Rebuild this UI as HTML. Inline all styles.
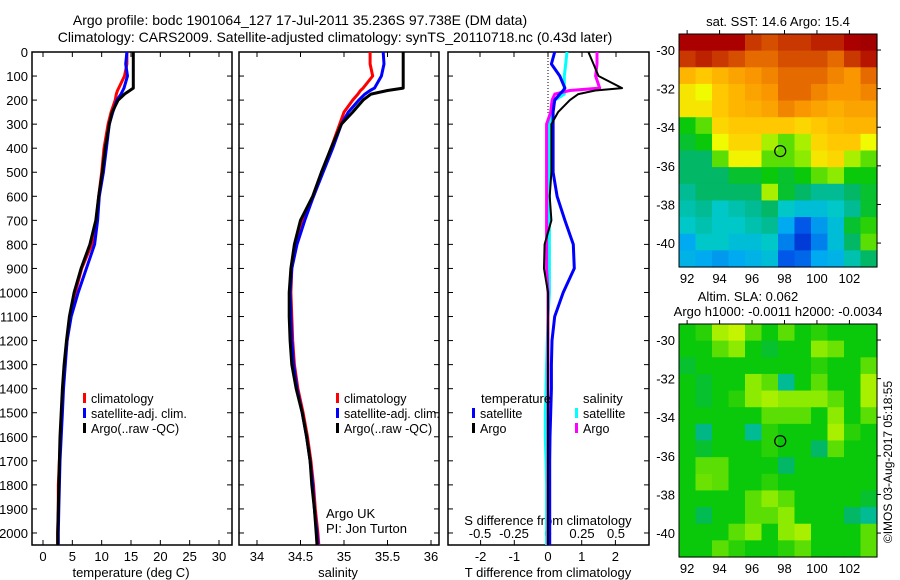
<!DOCTYPE html>
<html><head><meta charset="utf-8"><style>
html,body{margin:0;padding:0;background:#fff;}
svg{display:block;font-family:"Liberation Sans",sans-serif;}
</style></head><body>
<svg id="fig" width="900" height="580" viewBox="0 0 900 580">
<text x="300" y="25" font-size="14" text-anchor="middle">Argo profile: bodc 1901064_127 17-Jul-2011 35.236S 97.738E (DM data)</text>
<text x="335" y="42" font-size="14" text-anchor="middle">Climatology: CARS2009. Satellite-adjusted climatology: synTS_20110718.nc (0.43d later)</text>
<g id="p1"></g>
<g id="p2"></g>
<g id="p3"></g>
<g id="m1"></g>
<g id="m2"></g>
<text transform="translate(892,462) rotate(-90)" font-size="12" text-anchor="middle">©IMOS 03-Aug-2017 05:18:55</text>
</svg>
<script>
const depths=[0,50,100,150,160,175,200,250,300,400,500,600,700,800,900,1000,1100,1200,1300,1400,1500,1600,1700,1800,1900,2000,2050];
const tempArgo=[15.4,15.4,15.4,15.4,14.8,13.9,12.8,11.8,11.3,10.6,10.1,9.5,9.0,8.0,6.5,5.3,4.5,4.0,3.6,3.3,3.1,2.9,2.8,2.7,2.6,2.5,2.5];
const tempClim=[14.3,14.3,13.9,12.9,12.7,12.5,12.3,11.6,11.1,10.4,10.0,9.5,9.1,8.3,6.6,5.5,4.6,4.1,3.7,3.4,3.2,3.0,2.8,2.6,2.6,2.5,2.5];
const tempSat=[14.3,14.1,14.4,13.8,13.6,13.3,12.6,11.9,11.3,10.8,10.3,9.6,9.3,8.8,7.4,6.0,4.8,4.1,3.8,3.5,3.3,3.1,2.9,2.8,2.7,2.6,2.6];
const salArgo=[35.68,35.68,35.68,35.68,35.5,35.31,35.22,35.1,34.97,34.85,34.74,34.64,34.5,34.43,34.39,34.37,34.37,34.38,34.4,34.45,34.52,34.57,34.61,34.63,34.66,34.68,34.69];
const salClim=[35.3,35.3,35.33,35.22,35.19,35.16,35.1,35.0,34.95,34.85,34.75,34.65,34.52,34.44,34.4,34.39,34.4,34.41,34.43,34.47,34.53,34.58,34.62,34.65,34.67,34.7,34.71];
const salSat=[35.45,35.46,35.43,35.35,35.3,35.24,35.17,35.05,34.97,34.87,34.76,34.65,34.55,34.46,34.4,34.38,34.39,34.4,34.42,34.46,34.52,34.57,34.61,34.64,34.66,34.69,34.7];
const dTArgo=[1.2,1.35,1.5,2.2,1.4,0.9,0.65,0.3,0.1,0.1,0.1,0.05,0.1,-0.1,-0.12,0.0,0.0,0.0,0.0,0.0,0.0,0.0,0.0,0.0,0.0,0.0,0.0];
const dTSat=[0.2,0.1,0.35,0.5,0.45,0.35,0.2,0.15,0.15,0.15,0.15,0.27,0.5,0.75,0.78,0.45,0.2,0.12,0.1,0.1,0.08,0.06,0.05,0.05,0.05,0.05,0.05];
const dSArgo=[0.36,0.36,0.35,0.38,0.16,0.05,0.03,0.02,-0.01,-0.01,-0.01,-0.01,-0.01,-0.01,-0.01,0.0,0.0,0.0,0.0,0.0,0.0,0.0,0.0,0.0,0.0,0.0,0.0];
const dSSat=[0.14,0.13,0.12,0.12,0.12,0.12,0.05,0.03,0.01,0.01,0.01,0.01,0.01,0.01,0.01,0.01,0.0,-0.005,-0.01,-0.015,-0.02,-0.02,-0.015,-0.01,-0.01,-0.01,-0.01];
const depthTicks=[0,100,200,300,400,500,600,700,800,900,1000,1100,1200,1300,1400,1500,1600,1700,1800,1900,2000];
const tempTicks=[0,5,10,15,20,25,30];
const salTicks=[34,34.5,35,35.5,36];
const dTTicks=[-2,-1,0,1,2];
const dSTicks=[-0.5,-0.25,0,0.25,0.5];
const dSTickLabels=["-0.5","-0.25","0","0.25","0.5"];
const mapLonTicks=[92,94,96,98,100,102];
const mapLatTicks=[-30,-32,-34,-36,-38,-40];
const sstGrid=[
[0.95,0.95,0.95,0.95,0.9,0.88,0.9,0.9,0.92,0.92,0.95,0.97],
[0.9,0.92,0.9,0.88,0.85,0.85,0.88,0.88,0.88,0.85,0.9,0.93],
[0.75,0.72,0.75,0.78,0.8,0.82,0.85,0.85,0.85,0.82,0.8,0.85],
[0.68,0.65,0.72,0.75,0.78,0.8,0.85,0.85,0.82,0.8,0.8,0.82],
[0.68,0.68,0.72,0.75,0.76,0.78,0.82,0.8,0.78,0.76,0.78,0.78],
[0.5,0.55,0.7,0.72,0.72,0.72,0.72,0.7,0.72,0.74,0.75,0.75],
[0.48,0.5,0.65,0.7,0.7,0.6,0.55,0.6,0.7,0.72,0.72,0.65],
[0.45,0.45,0.55,0.66,0.66,0.55,0.55,0.58,0.68,0.7,0.6,0.55],
[0.45,0.45,0.45,0.48,0.48,0.5,0.48,0.5,0.55,0.58,0.5,0.5],
[0.42,0.45,0.45,0.45,0.45,0.6,0.48,0.45,0.42,0.42,0.45,0.48],
[0.4,0.42,0.38,0.4,0.42,0.45,0.38,0.35,0.35,0.38,0.42,0.48],
[0.38,0.4,0.38,0.38,0.4,0.42,0.3,0.2,0.28,0.35,0.48,0.52],
[0.3,0.38,0.38,0.35,0.35,0.38,0.25,0.15,0.25,0.35,0.45,0.55],
[0.32,0.3,0.28,0.3,0.32,0.35,0.2,0.22,0.3,0.32,0.4,0.45]];
const slaGrid=[
[0.5,0.52,0.6,0.62,0.55,0.5,0.55,0.5,0.52,0.5,0.5,0.5],
[0.5,0.5,0.55,0.58,0.5,0.48,0.5,0.5,0.58,0.56,0.5,0.5],
[0.48,0.5,0.5,0.5,0.5,0.5,0.5,0.5,0.52,0.5,0.5,0.55],
[0.5,0.48,0.5,0.5,0.58,0.55,0.42,0.5,0.55,0.5,0.5,0.6],
[0.5,0.48,0.5,0.52,0.58,0.6,0.58,0.58,0.58,0.55,0.5,0.6],
[0.5,0.5,0.5,0.5,0.5,0.55,0.55,0.55,0.5,0.58,0.5,0.55],
[0.5,0.43,0.5,0.5,0.42,0.52,0.5,0.5,0.5,0.6,0.52,0.5],
[0.5,0.48,0.5,0.5,0.5,0.52,0.5,0.5,0.45,0.55,0.5,0.5],
[0.5,0.55,0.55,0.5,0.5,0.5,0.45,0.5,0.5,0.5,0.5,0.5],
[0.5,0.56,0.55,0.5,0.5,0.52,0.5,0.5,0.5,0.5,0.5,0.5],
[0.5,0.5,0.5,0.5,0.55,0.58,0.55,0.5,0.5,0.5,0.5,0.48],
[0.5,0.46,0.5,0.5,0.55,0.55,0.58,0.5,0.5,0.5,0.45,0.42],
[0.5,0.5,0.5,0.55,0.58,0.5,0.58,0.6,0.5,0.5,0.5,0.55],
[0.5,0.5,0.55,0.52,0.5,0.5,0.52,0.55,0.5,0.5,0.5,0.55]];
const argoLon=97.738, argoLat=-35.236;

const NS='http://www.w3.org/2000/svg';
function mk(tag,attrs,parent){const e=document.createElementNS(NS,tag);for(const k in attrs)e.setAttribute(k,attrs[k]);parent.appendChild(e);return e;}
const TOP=52,BOT=545;
const yD=d=>TOP+(d/2050)*(BOT-TOP);

function frame(g,x0,x1){
  const r=mk('rect',{x:x0,y:TOP,width:x1-x0,height:BOT-TOP,fill:'none',stroke:'#000','stroke-width':1.5},g);
  
  
  depthTicks.forEach(d=>{
    mk('line',{x1:x0,x2:x0+5,y1:yD(d),y2:yD(d),stroke:'#000'},g);
    mk('line',{x1:x1-5,x2:x1,y1:yD(d),y2:yD(d),stroke:'#000'},g);
  });
}
function xTicks(g,vals,labels,sx,yLab,both){
  vals.forEach((v,i)=>{
    const x=sx(v);
    mk('line',{x1:x,x2:x,y1:BOT,y2:BOT-5,stroke:'#000'},g);
    if(both) mk('line',{x1:x,x2:x,y1:TOP,y2:TOP+5,stroke:'#000'},g);
    const t=mk('text',{x:x,y:yLab,'font-size':13,'text-anchor':'middle'},g);
    t.textContent=labels[i];
    
    
  });
}
function line(g,xs,sx,color,w,name){
  const p=depths.map((d,i)=>sx(xs[i]).toFixed(1)+','+yD(d).toFixed(1)).join(' ');
  const el=mk('polyline',{points:p,fill:'none',stroke:color,'stroke-width':w,'stroke-linejoin':'round'},g);
  
  
}
function legend(g,x,y,items){
  items.forEach((it,i)=>{
    mk('rect',{x:x,y:y+i*15-10,width:3,height:10,fill:it[0]},g);
    const t=mk('text',{x:x+8,y:y+i*15,'font-size':12.5},g);
    t.textContent=it[1];
    
    
  });
}
function text(g,x,y,s,anchor,size,name){
  const t=mk('text',{x:x,y:y,'font-size':size||13,'text-anchor':anchor||'start'},g);
  t.textContent=s;
  
  
  return t;
}

const p1=document.getElementById('p1');
const sxT=t=>43+t*(219-43)/30;
frame(p1,32,232);
depthTicks.forEach(d=>{ text(p1,28,yD(d)+5,String(d),'end',13,'y-tick-label'); });
xTicks(p1,tempTicks,tempTicks.map(String),sxT,561,true);
text(p1,131,577,'temperature (deg C)','middle',13,'x-axis-title-temperature');
line(p1,tempClim,sxT,'#f00',3,'temp-climatology-line');
line(p1,tempSat,sxT,'#00f',3,'temp-satellite-line');
line(p1,tempArgo,sxT,'#000',3,'temp-argo-line');
legend(p1,83,403,[['#f00','climatology'],['#00f','satellite-adj. clim.'],['#000','Argo(..raw -QC)']]);

const p2=document.getElementById('p2');
const sxS=s=>257+(s-34)*(431-257)/2;
frame(p2,239,439);
xTicks(p2,salTicks,salTicks.map(String),sxS,561,true);
text(p2,338,577,'salinity','middle',13,'x-axis-title-salinity');
line(p2,salClim,sxS,'#f00',3,'sal-climatology-line');
line(p2,salSat,sxS,'#00f',3,'sal-satellite-line');
line(p2,salArgo,sxS,'#000',3,'sal-argo-line');
legend(p2,336,403,[['#f00','climatology'],['#00f','satellite-adj. clim.'],['#000','Argo(..raw -QC)']]);
text(p2,326,518,'Argo UK','start',13,'argo-uk-label');
text(p2,326,533,'PI: Jon Turton','start',13,'pi-label');

const p3=document.getElementById('p3');
const sxdT=v=>548+v*33.7;
const sxdS=v=>548+v*136;
frame(p3,448,649);
mk('line',{x1:548,x2:548,y1:TOP,y2:yD(260),stroke:'#000','stroke-dasharray':'1,2'},p3);
dSTicks.forEach(v=>mk('line',{x1:sxdS(v),x2:sxdS(v),y1:TOP,y2:TOP+5,stroke:'#000'},p3));
xTicks(p3,dTTicks,dTTicks.map(String),sxdT,561,false);
dSTicks.forEach((v,i)=>text(p3,sxdS(v),538,dSTickLabels[i],'middle',13,'s-diff-tick-label'));
text(p3,548,525,'S difference from climatology','middle',13,'s-diff-axis-title');
text(p3,548,577,'T difference from climatology','middle',13,'t-diff-axis-title');
line(p3,dSSat,sxdS,'#0ff',3,'sdiff-satellite-line');
line(p3,dSArgo,sxdS,'#f0f',3,'sdiff-argo-line');
line(p3,dTSat,sxdT,'#00f',3,'tdiff-satellite-line');
line(p3,dTArgo,sxdT,'#000',2,'tdiff-argo-line');
text(p3,481,403,'temperature','start',13,'legend-temperature-header');
text(p3,583,403,'salinity','start',13,'legend-salinity-header');
legend(p3,472,418,[['#00f','satellite'],['#000','Argo']]);
legend(p3,575,418,[['#0ff','satellite'],['#f0f','Argo']]);

const cmapStops=[[0,[0,0,140]],[0.18,[0,70,230]],[0.3,[0,170,240]],[0.38,[0,200,200]],[0.44,[0,180,120]],[0.5,[10,200,10]],[0.58,[140,235,0]],[0.65,[240,250,0]],[0.72,[255,200,0]],[0.8,[250,150,0]],[0.87,[220,90,0]],[0.95,[170,0,0]],[1,[150,0,0]]];
function cmap(v){
  for(let i=1;i<cmapStops.length;i++){
    if(v<=cmapStops[i][0]){
      const a=cmapStops[i-1],b=cmapStops[i],f=(v-a[0])/(b[0]-a[0]);
      const c=a[1].map((x,k)=>Math.round(x+(b[1][k]-x)*f));
      return 'rgb('+c.join(',')+')';
    }
  }
  return 'rgb(150,0,0)';
}
function drawMap(g,grid,y0,name){
  const x0=679,x1=877,y1=y0+233;
  const lonL=91.5,lonR=103.7,latT=-29.17,latB=-41.24;
  const sx=lon=>x0+(lon-lonL)/(lonR-lonL)*(x1-x0);
  const sy=lat=>y0+(latT-lat)/(latT-latB)*(y1-y0);
  const rows=grid.length,cols=grid[0].length;
  const cw=(x1-x0)/cols,ch=(y1-y0)/rows;
  grid.forEach((row,i)=>row.forEach((v,j)=>{
    const r=mk('rect',{x:(x0+j*cw).toFixed(2),y:(y0+i*ch).toFixed(2),width:(cw+0.6).toFixed(2),height:(ch+0.6).toFixed(2),fill:cmap(v)},g);
    
    
  }));
  const fr=mk('rect',{x:x0,y:y0,width:x1-x0,height:y1-y0,fill:'none',stroke:'#000','stroke-width':1},g);
  
  
  mapLonTicks.forEach(l=>{
    mk('line',{x1:sx(l),x2:sx(l),y1:y0,y2:y0-4,stroke:'#000'},g);
    text(g,sx(l),y1+16,String(l),'middle',13,'lon-tick-label');
  });
  mapLatTicks.forEach(l=>{
    mk('line',{x1:x1,x2:x1+4,y1:sy(l),y2:sy(l),stroke:'#000'},g);
    text(g,675,sy(l)+5,String(l),'end',13,'lat-tick-label');
  });
  const c=mk('circle',{cx:sx(argoLon),cy:sy(argoLat),r:5.5,fill:'none',stroke:'#000','stroke-width':1.2},g);
  
  
}
const m1=document.getElementById('m1');
drawMap(m1,sstGrid,34,'sst');
text(m1,778,26,'sat. SST: 14.6 Argo: 15.4','middle',13,'sst-map-title');
const m2=document.getElementById('m2');
drawMap(m2,slaGrid,324,'sla');
text(m2,748,301,'Altim. SLA: 0.062','middle',13,'sla-map-title');
text(m2,778,316,'Argo h1000: -0.0011 h2000: -0.0034','middle',13,'sla-map-subtitle');
</script>
</body></html>
